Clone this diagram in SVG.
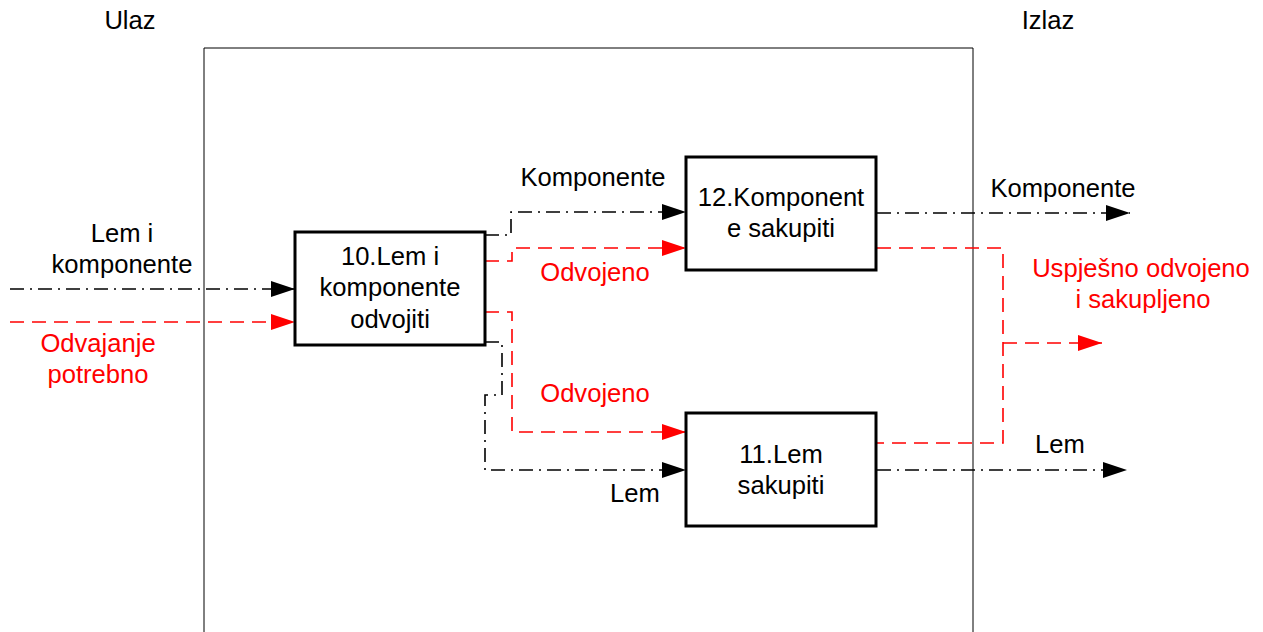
<svg xmlns="http://www.w3.org/2000/svg" width="1263" height="632" viewBox="0 0 1263 632">
<style>
text{font-family:"Liberation Sans",Arial,sans-serif;font-size:25.6px;fill:#000;text-anchor:middle}
text.r{fill:#f00}
.box{fill:#fff;stroke:#000;stroke-width:3}
.bk{fill:none;stroke:#000;stroke-width:1.6;stroke-dasharray:14 6 2 6}
.rd{fill:none;stroke:#f00;stroke-width:1.6;stroke-dasharray:14 8}
.frame{fill:none;stroke:#000;stroke-width:1}
</style>
<defs>
<marker id="ab" markerUnits="userSpaceOnUse" markerWidth="24" markerHeight="16" refX="24" refY="8" orient="auto"><path d="M0,0 L24,8 L0,16 z" fill="#000"/></marker>
<marker id="ar" markerUnits="userSpaceOnUse" markerWidth="24" markerHeight="16" refX="24" refY="8" orient="auto"><path d="M0,0 L24,8 L0,16 z" fill="#f00"/></marker>
</defs>
<path class="frame" d="M204,640 V48 H973 V640"/>
<text x="130" y="29">Ulaz</text>
<text x="1048" y="29">Izlaz</text>
<g id="connectors">
<path class="bk" d="M10,289 H295" marker-end="url(#ab)"/>
<path class="rd" d="M10,322 H295" marker-end="url(#ar)"/>
<path class="bk" d="M485,235 H511 V212 H686" marker-end="url(#ab)"/>
<path class="rd" d="M485,261 H512 V248 H686" marker-end="url(#ar)"/>
<path class="rd" d="M485,312 H512 V432 H686" marker-end="url(#ar)"/>
<path class="bk" d="M485,342 H502 V395 H485 V470 H686" marker-end="url(#ab)"/>
<path class="bk" d="M877,213 H1130" marker-end="url(#ab)"/>
<path class="rd" d="M877,248 H1003 V443 H877"/>
<path class="rd" d="M1003,343 H1102" marker-end="url(#ar)"/>
<path class="bk" d="M877,470 H1127" marker-end="url(#ab)"/>
<text x="122" y="242">Lem i</text>
<text x="122" y="273">komponente</text>
<text class="r" x="98" y="352">Odvajanje</text>
<text class="r" x="98" y="383">potrebno</text>
<text x="593" y="186">Komponente</text>
<text class="r" x="595" y="281">Odvojeno</text>
<text class="r" x="595" y="402">Odvojeno</text>
<text x="635" y="502">Lem</text>
<text x="1063" y="197">Komponente</text>
<text class="r" x="1141" y="277">Uspješno odvojeno</text>
<text class="r" x="1143" y="308">i sakupljeno</text>
<text x="1060" y="453">Lem</text>
</g>
<g id="node10">
<rect class="box" x="295" y="232" width="190" height="113"/>
<text x="390" y="265">10.Lem i</text>
<text x="390" y="296">komponente</text>
<text x="390" y="328">odvojiti</text>
</g>
<g id="node12">
<rect class="box" x="686" y="157" width="190" height="113"/>
<text x="781" y="206">12.Komponent</text>
<text x="781" y="237">e sakupiti</text>
</g>
<g id="node11">
<rect class="box" x="686" y="413" width="190" height="113"/>
<text x="781" y="463">11.Lem</text>
<text x="781" y="494">sakupiti</text>
</g>
</svg>
